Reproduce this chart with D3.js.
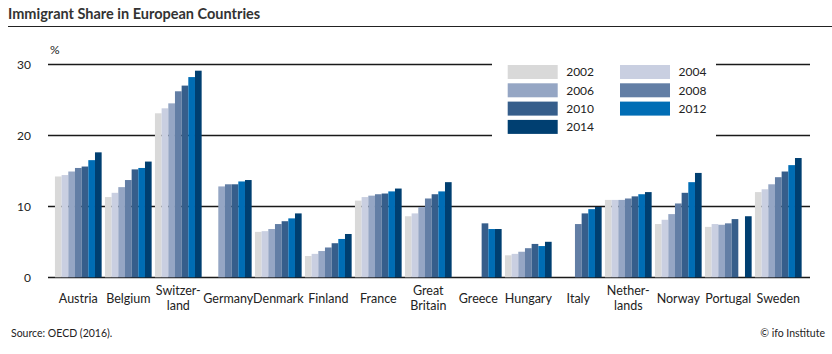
<!DOCTYPE html>
<html>
<head>
<meta charset="utf-8">
<script src="https://cdn.jsdelivr.net/npm/d3@7"></script>
<style>
  body { margin: 0; background: #fff; }
  svg { font-family: Lato, "Open Sans", sans-serif; }
</style>
</head>
<body>
<div id="chart"></div>
<script>
// data
var countries = ["Austria", "Belgium", "Switzer-\nland", "Germany", "Denmark", "Finland", "France",
                 "Great\nBritain", "Greece", "Hungary", "Italy", "Nether-\nlands", "Norway", "Portugal", "Sweden"];
var years = ["2002", "2004", "2006", "2008", "2010", "2012", "2014"];
var colors = ["#d9d9d9", "#c9cfe1", "#95a6c4", "#627ea5", "#365e8b", "#006db5", "#003f71"];

// one array per country, in year order (null = no value)
var austria     = [14.2, 14.4, 14.9, 15.4, 15.6, 16.5, 17.6];
var belgium     = [11.3, 11.9, 12.7, 13.7, 15.2, 15.4, 16.3];
var switzerland = [23.1, 23.8, 24.5, 26.2, 27.0, 28.2, 29.1];
var germany     = [null, null, 12.8, 13.1, 13.1, 13.5, 13.7];
var denmark     = [6.4, 6.5, 6.8, 7.5, 7.9, 8.3, 9.0];
var finland     = [3.0, 3.3, 3.7, 4.2, 4.8, 5.4, 6.1];
var france      = [10.8, 11.3, 11.5, 11.7, 11.8, 12.1, 12.5];
var britain     = [8.6, 9.0, 9.9, 11.1, 11.7, 12.1, 13.4];
var greece      = [null, null, null, null, 7.6, 6.8, 6.8];
var hungary     = [3.1, 3.3, 3.6, 4.1, 4.7, 4.4, 5.0];
var italy       = [null, null, null, 7.5, 9.0, 9.6, 9.9];
var netherlands = [10.9, 10.9, 10.9, 11.1, 11.4, 11.7, 12.0];
var norway      = [7.5, 8.1, 8.9, 10.4, 11.9, 13.4, 14.7];
var portugal    = [7.1, 7.5, 7.4, 7.6, 8.2, null, 8.6];
var sweden      = [12.0, 12.4, 13.1, 14.1, 14.9, 15.8, 16.8];
var values = [austria, belgium, switzerland, germany, denmark, finland, france,
              britain, greece, hungary, italy, netherlands, norway, portugal, sweden];
var yTicks = [0, 10, 20, 30];

var width = 832, height = 354;

var svg = d3.select("#chart").append("svg")
    .attr("width", width)
    .attr("height", height);

// title
svg.append("text")
    .attr("x", 8).attr("y", 19)
    .style("font-size", "14.5px").style("font-weight", "bold").style("fill", "#333")
    .text("Immigrant Share in European Countries");
svg.append("line")
    .attr("x1", 8).attr("x2", 832).attr("y1", 26.5).attr("y2", 26.5)
    .style("stroke", "#222").style("stroke-width", 1.2);

var x0 = d3.scaleBand()
    .domain(d3.range(countries.length))
    .range([53.3, 803.3])
    .paddingInner(0.066).paddingOuter(0.033);
var x1 = d3.scaleBand()
    .domain(years)
    .range([0, x0.bandwidth()]);
var y = d3.scaleLinear().domain([0, 30]).range([277.3, 64.3]);

// gridlines
svg.append("g").selectAll("line")
    .data(yTicks).enter().append("line")
    .attr("x1", 48).attr("x2", 810)
    .attr("y1", function(d) { return Math.round(y(d)) + 0.5; })
    .attr("y2", function(d) { return Math.round(y(d)) + 0.5; })
    .style("stroke", "#1a1a1a").style("stroke-width", 1.3);

svg.append("g").selectAll("text")
    .data(yTicks).enter().append("text")
    .attr("x", 31).attr("y", function(d) { return y(d); })
    .attr("dy", "0.35em").attr("text-anchor", "end")
    .style("font-size", "12px").style("fill", "#222")
    .text(function(d) { return d; });

svg.append("text")
    .attr("x", 50).attr("y", 54)
    .style("font-size", "12px").style("fill", "#222")
    .text("%");

// bars
var groups = svg.append("g").selectAll("g")
    .data(values).enter().append("g")
    .attr("transform", function(d, i) { return "translate(" + x0(i) + ",0)"; });

groups.selectAll("rect")
    .data(function(d) {
      return d.map(function(v, j) { return { year: years[j], value: v, color: colors[j] }; })
              .filter(function(o) { return o.value != null; });
    })
    .enter().append("rect")
    .attr("x", function(d) { return x1(d.year); })
    .attr("width", x1.bandwidth())
    .attr("y", function(d) { return y(d.value); })
    .attr("height", function(d) { return y(0) - y(d.value); })
    .style("fill", function(d) { return d.color; });

// country labels
var labels = svg.append("g").selectAll("text")
    .data(countries).enter().append("text")
    .attr("text-anchor", "middle")
    .style("font-size", "12.5px").style("fill", "#222")
    .attr("transform", function(d, i) { return "translate(" + (x0(i) + x0.bandwidth() / 2) + ",0)"; });

labels.each(function(d) {
  var parts = d.split("\n");
  var t = d3.select(this);
  if (parts.length == 1) {
    t.append("tspan").attr("x", 0).attr("y", 303).text(parts[0]);
  } else {
    t.append("tspan").attr("x", 0).attr("y", 295).text(parts[0]);
    t.append("tspan").attr("x", 0).attr("y", 310).text(parts[1]);
  }
});

// legend
svg.append("rect")
    .attr("x", 492).attr("y", 58).attr("width", 224).attr("height", 84)
    .style("fill", "#fff");

var legend = svg.append("g").selectAll("g")
    .data(years).enter().append("g")
    .attr("transform", function(d, i) {
      var col = (i < 6) ? i % 2 : 0;
      var row = (i < 6) ? Math.floor(i / 2) : 3;
      return "translate(" + (507.7 + col * 112.3) + "," + (65 + row * 18.3) + ")";
    });
legend.append("rect")
    .attr("width", 50).attr("height", 14)
    .style("fill", function(d, i) { return colors[i]; });
legend.append("text")
    .attr("x", 58.5).attr("y", 7).attr("dy", "0.35em")
    .style("font-size", "12px").style("fill", "#222")
    .text(function(d) { return d; });

// footer
svg.append("text")
    .attr("x", 11).attr("y", 336.5)
    .style("font-size", "10.5px").style("fill", "#222")
    .text("Source: OECD (2016).");
svg.append("text")
    .attr("x", 825).attr("y", 336.5).attr("text-anchor", "end")
    .style("font-size", "10.5px").style("fill", "#222")
    .text("\u00a9  ifo Institute");
</script>
</body>
</html>
